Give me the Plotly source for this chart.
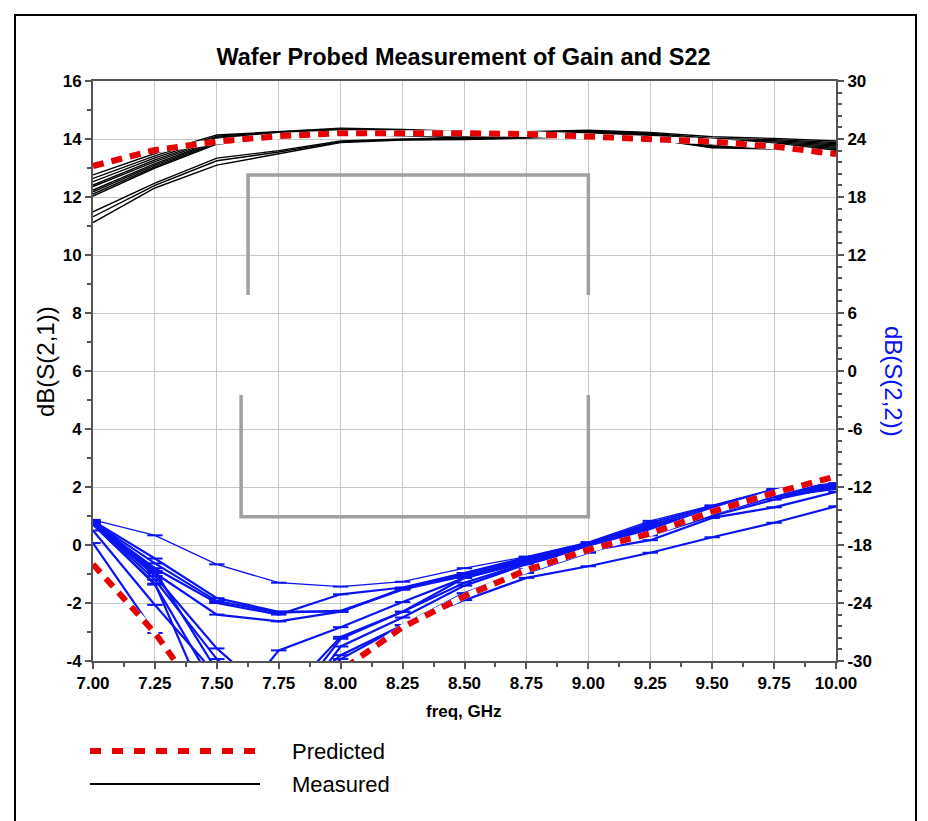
import plotly.graph_objects as go

# ---------------- data ----------------
freq = [7.00, 7.25, 7.50, 7.75, 8.00, 8.25, 8.50, 8.75, 9.00, 9.25, 9.50, 9.75, 10.00]

gain_predicted = [13.07, 13.62, 13.91, 14.10, 14.20, 14.22, 14.20, 14.17, 14.08, 14.00, 13.91, 13.74, 13.48]

gain_measured = [
    [12.76, 13.50, 14.14, 14.26, 14.37, 14.33, 14.26, 14.25, 14.30, 14.23, 14.08, 14.02, 13.93],
    [12.64, 13.42, 14.10, 14.24, 14.34, 14.30, 14.22, 14.22, 14.27, 14.20, 14.02, 13.98, 13.88],
    [12.53, 13.35, 14.06, 14.22, 14.31, 14.27, 14.20, 14.20, 14.25, 14.17, 13.96, 13.94, 13.84],
    [12.41, 13.28, 14.02, 14.20, 14.29, 14.25, 14.18, 14.18, 14.22, 14.14, 13.92, 13.90, 13.80],
    [12.36, 13.22, 13.98, 14.18, 14.27, 14.22, 14.15, 14.15, 14.20, 14.12, 13.88, 13.86, 13.76],
    [12.24, 13.15, 13.94, 14.15, 14.24, 14.20, 14.12, 14.12, 14.17, 14.09, 13.84, 13.82, 13.72],
    [12.18, 13.10, 13.90, 14.12, 14.21, 14.17, 14.09, 14.10, 14.14, 14.06, 13.80, 13.78, 13.68],
    [12.10, 13.05, 13.86, 14.10, 14.18, 14.14, 14.06, 14.07, 14.11, 14.03, 13.76, 13.74, 13.64],
    [12.03, 13.00, 13.82, 14.08, 14.15, 14.11, 14.03, 14.05, 14.08, 14.00, 13.72, 13.70, 13.60],
    [11.49, 12.48, 13.34, 13.60, 13.93, 14.00, 14.02, 14.08, 14.12, 14.05, 13.75, 13.72, 13.62],
    [11.32, 12.40, 13.25, 13.55, 13.90, 13.98, 14.00, 14.05, 14.10, 14.03, 13.72, 13.68, 13.58],
    [11.12, 12.31, 13.10, 13.50, 13.88, 13.96, 13.98, 14.03, 14.08, 14.01, 13.70, 13.65, 13.56],
]

s22_predicted = [-20.0, -27.1, -36.0, -38.0, -31.0, -26.5, -23.3, -20.6, -18.5, -16.8, -14.55, -12.6, -10.9]

s22_measured = [
    [-15.4, -17.0, -20.0, -21.9, -22.3, -21.8, -20.4, -19.2, -17.7, -15.5, -13.9, -12.2, -11.6],
    [-15.5, -19.4, -23.5, -24.9, -24.9, -22.5, -20.9, -19.3, -17.8, -15.7, -14.0, -12.3, -11.7],
    [-15.6, -19.9, -23.8, -25.0, -24.8, -22.6, -21.0, -19.4, -17.9, -15.9, -14.2, -12.5, -11.8],
    [-15.7, -20.4, -24.0, -25.2, -23.1, -22.4, -20.9, -19.5, -18.0, -16.1, -14.4, -12.6, -11.8],
    [-15.8, -20.9, -25.2, -25.9, -24.9, -22.6, -21.2, -19.6, -18.1, -16.2, -14.5, -12.7, -11.9],
    [-15.6, -21.2, -28.7, -34.3, -27.5, -24.9, -21.9, -19.9, -18.2, -16.4, -14.6, -12.8, -11.9],
    [-15.7, -21.6, -29.8, -36.0, -27.7, -24.9, -21.4, -19.8, -18.1, -16.3, -14.5, -12.7, -12.0],
    [-15.9, -22.0, -36.8, -28.9, -26.5, -23.9, -21.4, -19.7, -18.4, -17.0, -15.0, -13.3, -12.0],
    [-15.5, -20.7, -31.0, -37.0, -28.5, -25.5, -22.2, -20.0, -18.3, -16.6, -14.8, -13.0, -12.1],
    [-15.8, -22.1, -33.0, -36.5, -29.8, -26.3, -23.0, -20.5, -18.6, -17.5, -15.2, -14.1, -12.5],
    [-16.5, -24.2, -31.5, -35.0, -29.4, -26.3, -23.0, -20.9, -18.8, -16.8, -14.7, -13.0, -12.2],
    [-17.8, -27.1, -36.0, -38.0, -31.0, -26.3, -23.7, -21.4, -20.2, -18.8, -17.2, -15.7, -14.0],
]
s22_widths = [1.3, 2.2, 2.2, 2.2, 2.2, 2.2, 2.2, 2.2, 2.2, 2.2, 2.2, 2.2]

x_ticks = [7.00, 7.25, 7.50, 7.75, 8.00, 8.25, 8.50, 8.75, 9.00, 9.25, 9.50, 9.75, 10.00]
x_ticktext = ["7.00", "7.25", "7.50", "7.75", "8.00", "8.25", "8.50", "8.75", "9.00",
              "9.25", "9.50", "9.75", "10.00"]
y_ticks = [-4, -2, 0, 2, 4, 6, 8, 10, 12, 14, 16]
y_ticktext = ["-4", "-2", "0", "2", "4", "6", "8", "10", "12", "14", "16"]
y2_ticks = [-30, -24, -18, -12, -6, 0, 6, 12, 18, 24, 30]
y2_ticktext = ["-30", "-24", "-18", "-12", "-6", "0", "6", "12", "18", "24", "30"]

# ---------------- figure ----------------
OFF = 8  # page body margin
W, H = 928, 821
PL, PT, PW, PH = 93 - OFF, 81 - OFF, 743, 580
L, T = PL, PT
R = W - L - PW
B = H - T - PH

def px(xp):  # page pixel x -> paper
    return (xp - OFF - L) / PW

def py(yp):  # page pixel y -> paper
    return (T + PH - (yp - OFF)) / PH

FONT = "Liberation Sans, Arial, sans-serif"
NARROW = "Liberation Sans Narrow, Arial Narrow, Liberation Sans, Arial, sans-serif"
BLUE = "#0a14f0"
RED = "#e60000"
DASH = "11px,8px"

fig = go.Figure()

for g in gain_measured:
    fig.add_trace(go.Scatter(x=freq, y=g, mode="lines",
                             line=dict(color="black", width=1.4), yaxis="y",
                             showlegend=False, hoverinfo="skip"))
fig.add_trace(go.Scatter(x=freq, y=gain_predicted, mode="lines",
                         line=dict(color="white", width=6), yaxis="y",
                         showlegend=False, hoverinfo="skip"))
fig.add_trace(go.Scatter(x=freq, y=gain_predicted, mode="lines",
                         line=dict(color=RED, width=6, dash=DASH), yaxis="y",
                         showlegend=False, hoverinfo="skip"))

for s, w in zip(s22_measured, s22_widths):
    fig.add_trace(go.Scatter(x=freq, y=s, mode="lines+markers",
                             line=dict(color=BLUE, width=w),
                             marker=dict(symbol="line-ew", size=11,
                                         line=dict(color=BLUE, width=2)),
                             yaxis="y2", showlegend=False, hoverinfo="skip"))
fig.add_trace(go.Scatter(x=freq, y=s22_predicted, mode="lines",
                         line=dict(color="white", width=6), yaxis="y2",
                         showlegend=False, hoverinfo="skip"))
fig.add_trace(go.Scatter(x=freq, y=s22_predicted, mode="lines",
                         line=dict(color=RED, width=6, dash=DASH), yaxis="y2",
                         showlegend=False, hoverinfo="skip"))

axis_common = dict(showline=True, linecolor="#555555", linewidth=2,
                   ticks="outside", ticklen=6, tickwidth=1.5, tickcolor="#555555",
                   zeroline=False)
tickfont = dict(family=NARROW, size=17, color="black", weight="bold")

fig.update_layout(
    width=W, height=H, autosize=False,
    margin=dict(l=L, r=R, t=T, b=B, pad=0),
    paper_bgcolor="white", plot_bgcolor="white",
    showlegend=False,
    title=dict(text="<b>Wafer Probed Measurement of Gain and S22</b>",
               x=(463.5 - OFF) / W, xref="container", xanchor="center",
               y=1 - (57 - OFF) / H, yref="container", yanchor="middle",
               font=dict(family=FONT, size=23.5, color="black")),
    xaxis=dict(range=[7, 10], tickvals=x_ticks, ticktext=x_ticktext,
               showgrid=True, gridcolor="#c8c8c8", gridwidth=1, mirror=True,
               minor=dict(dtick=0.125, tick0=7, ticks="outside", ticklen=4,
                          tickcolor="#555555", tickwidth=1.5, showgrid=False),
               tickfont=tickfont, **axis_common),
    yaxis=dict(range=[-4, 16], tickvals=y_ticks, ticktext=y_ticktext,
               showgrid=True, gridcolor="#c8c8c8", gridwidth=1,
               minor=dict(dtick=1, tick0=0, ticks="outside", ticklen=4,
                          tickcolor="#555555", tickwidth=1.5, showgrid=False),
               tickfont=tickfont, **axis_common),
    yaxis2=dict(range=[-30, 30], tickvals=y2_ticks, ticktext=y2_ticktext,
                overlaying="y", side="right", showgrid=False,
                minor=dict(dtick=1.2, tick0=-30, ticks="outside", ticklen=4,
                           tickcolor="#555555", tickwidth=1.5, showgrid=False),
                tickfont=tickfont, **axis_common),
)

annotations = [
    dict(text="<b>freq, GHz</b>", x=px(463.5), y=py(711), xref="paper", yref="paper",
         xanchor="center", yanchor="middle", showarrow=False,
         font=dict(family=FONT, size=17, color="black")),
    dict(text="dB(S(2,1))", x=px(45), y=py(362), xref="paper", yref="paper",
         xanchor="center", yanchor="middle", showarrow=False, textangle=-90,
         font=dict(family=FONT, size=24, color="black")),
    dict(text="dB(S(2,2))", x=px(893), y=py(381), xref="paper", yref="paper",
         xanchor="center", yanchor="middle", showarrow=False, textangle=90,
         font=dict(family=FONT, size=24, color=BLUE)),
    dict(text="Predicted", x=px(290), y=py(751), xref="paper", yref="paper",
         xanchor="left", yanchor="middle", showarrow=False,
         font=dict(family=FONT, size=22, color="black")),
    dict(text="Measured", x=px(290), y=py(784), xref="paper", yref="paper",
         xanchor="left", yanchor="middle", showarrow=False,
         font=dict(family=FONT, size=22, color="black")),
]
fig.update_layout(annotations=annotations)

GRAY = "#a0a0a0"
shapes = [
    # outer frame
    dict(type="rect", xref="paper", yref="paper", x0=px(15), x1=px(916),
         y0=py(840), y1=py(15), line=dict(color="black", width=2), layer="above"),
    # gray brackets
    dict(type="path", xref="x", yref="y",
         path="M 7.626,8.62 L 7.626,12.76 L 9.0,12.76 L 9.0,8.62",
         line=dict(color=GRAY, width=3.5)),
    dict(type="path", xref="x", yref="y",
         path="M 7.598,5.17 L 7.598,0.97 L 9.0,0.97 L 9.0,5.17",
         line=dict(color=GRAY, width=3.5)),
    # legend samples
    dict(type="line", xref="paper", yref="paper", x0=px(90), x1=px(262),
         y0=py(751), y1=py(751), line=dict(color=RED, width=6, dash="11px,11px")),
    dict(type="line", xref="paper", yref="paper", x0=px(90), x1=px(260),
         y0=py(784), y1=py(784), line=dict(color="black", width=2)),
]
fig.update_layout(shapes=shapes)

fig.write_html("out.html")
